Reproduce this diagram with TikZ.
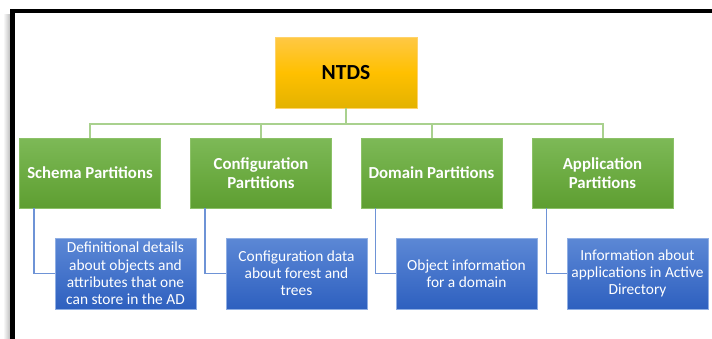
\documentclass[tikz,border=0pt]{standalone}
\usepackage{fontspec}
\setmainfont{Carlito}
\usetikzlibrary{positioning}
\definecolor{gtop}{HTML}{7DB957}
\definecolor{gbot}{HTML}{5E9E31}
\definecolor{gmid}{HTML}{6DAC43}
\definecolor{gline}{HTML}{A9D18E}
\definecolor{gedge}{HTML}{8CC168}
\definecolor{btop}{HTML}{5C88D5}
\definecolor{bbot}{HTML}{2E60BF}
\definecolor{bmid}{HTML}{4574CB}
\definecolor{bline}{HTML}{6E93D6}
\definecolor{bedge}{HTML}{8FAEE3}
\definecolor{otop}{HTML}{FFC845}
\definecolor{omid}{HTML}{FFC000}
\definecolor{obot}{HTML}{E3B200}
\tikzset{
  ntdsbox/.style={draw=otop!80!white, line width=0.6pt, top color=otop, bottom color=obot, middle color=omid,
    minimum width=142pt, minimum height=71pt, inner sep=0pt, font=\fontsize{21.5}{25}\selectfont\bfseries, text=black},
  partbox/.style={draw=gedge, line width=0.6pt, top color=gtop, bottom color=gbot, middle color=gmid,
    minimum width=141pt, minimum height=70pt, inner sep=0pt, align=center, text=white,
    font=\fontsize{16.8}{18.7}\selectfont\bfseries},
  descbox/.style={draw=bedge, line width=0.6pt, top color=btop, bottom color=bbot, middle color=bmid,
    minimum width=141pt, minimum height=71pt, inner sep=0pt, align=center, text=white,
    font=\fontsize{15.4}{17.2}\selectfont},
  gconn/.style={draw=gline, line width=2pt},
  bconn/.style={draw=bline, line width=1.5pt},
}
\begin{document}
\begin{tikzpicture}[x=1pt,y=-1pt]
\useasboundingbox (0,0) rectangle (712,338);
\begin{scope}
\clip (0,0) rectangle (712,338);
\fill[white] (0,0) rectangle (712,338);
\shade[left color=white, right color=black!25] (3,14) rectangle (10,340);
\draw[line width=4.5pt] (12.5,345) -- (12.5,11) -- (720,11);
\end{scope}
\node[ntdsbox] (ntds) at (346,72.5) {NTDS};
\node[partbox] (p1) at (90,173) {Schema Partitions};
\node[partbox] (p2) at (261,173) {Configuration\\Partitions};
\node[partbox] (p3) at (431.5,173) {Domain Partitions};
\node[partbox] (p4) at (602.5,173) {Application\\Partitions};
\node[descbox] (d1) at (125.5,273.5) {Definitional details\\about objects and\\attributes that one\\can store in the AD};
\node[descbox] (d2) at (296.5,273.5) {Configuration data\\about forest and\\trees};
\node[descbox] (d3) at (466.5,273.5) {Object information\\for a domain};
\node[descbox] (d4) at (637.5,273.5) {Information about\\applications in Active\\Directory};
\coordinate (bus) at (346,124);
\draw[gconn] (ntds.south) -- (bus);
\foreach \p in {p1,p2,p3,p4}{
  \draw[gconn] (bus) -| (\p.north);
}
\foreach \i in {1,2,3,4}{
  \draw[bconn] ([xshift=15pt]p\i.south west) |- (d\i.west);
}
\end{tikzpicture}
\end{document}
